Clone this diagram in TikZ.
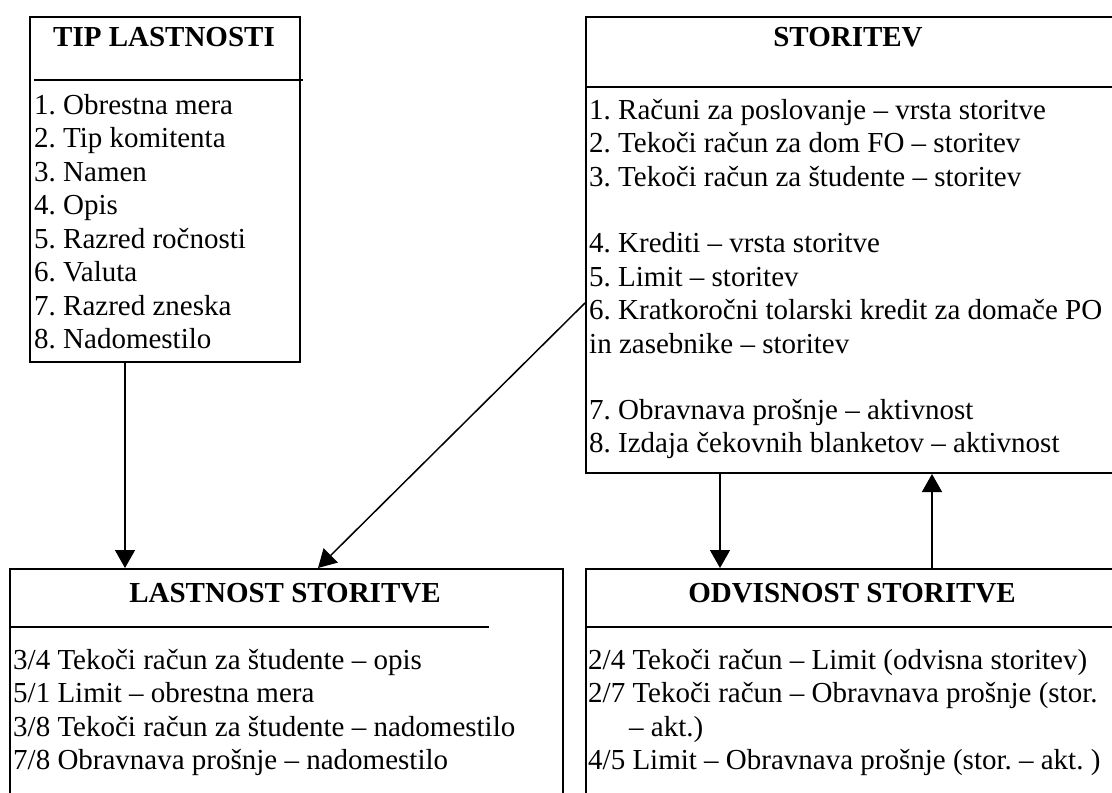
\documentclass[tikz,border=0pt]{standalone}
\usepackage{fontspec}
\setmainfont{Liberation Serif}
\usetikzlibrary{arrows.meta}
\frenchspacing
\tikzset{
  box/.style={draw, line width=2pt, inner sep=0pt, anchor=north west},
  rule/.style={line width=2pt},
  arr/.style={line width=1.5pt, -{Triangle[length=18pt,width=20pt]}},
  head/.style={font=\fontsize{29}{33.5}\selectfont\bfseries, anchor=base, inner sep=0pt},
  item/.style={font=\fontsize{29}{33.5}\selectfont, anchor=base west, inner sep=0pt},
}
\begin{document}
\begin{tikzpicture}[x=1pt,y=-1pt]
\useasboundingbox (0,0) rectangle (1112,793);
\clip (0,0) rectangle (1112,793);

% four entity boxes
\node[box, minimum width=270pt, minimum height=345pt] (tip)  at (29,16)  {};
\node[box, minimum width=531pt, minimum height=456pt] (stor) at (585,16) {};
\node[box, minimum width=553pt, minimum height=240pt] (last) at (9,568)  {};
\node[box, minimum width=531pt, minimum height=240pt] (odv)  at (585,568) {};

% header rules
\draw[rule] (34,80) -- (303,80);
\draw[rule] (585,87) -- (1116,87);
\draw[rule] (10,627) -- (489,627);
\draw[rule] (585,627) -- (1116,627);

% headers
\node[head] (tiph)  at (164,46)  {TIP LASTNOSTI};
\node[head] (storh) at (848,46)  {STORITEV};
\node[head] (lasth) at (285,602) {LASTNOST STORITVE};
\node[head] (odvh)  at (852,602) {ODVISNOST STORITVE};

% TIP LASTNOSTI items
\foreach \t [count=\i from 0] in {1. Obrestna mera, 2. Tip komitenta, 3. Namen, 4. Opis,
    5. Razred ročnosti, 6. Valuta, 7. Razred zneska, 8. Nadomestilo}
  \node[item] (tipi\i) at (34,114+33.5*\i) {\t};

% STORITEV items
\node[item] (s1) at (589,119) {1. Računi za poslovanje – vrsta storitve};
\node[item] (s2) at (589,152) {2. Tekoči račun za dom FO – storitev};
\node[item] (s3) at (589,186) {3. Tekoči račun za študente – storitev};
\node[item] (s4) at (589,252) {4. Krediti – vrsta storitve};
\node[item] (s5) at (589,286) {5. Limit – storitev};
\node[item] (s6) at (589,319) {6. Kratkoročni tolarski kredit za domače PO};
\node[item] (s6b) at (589,353) {in zasebnike – storitev};
\node[item] (s7) at (589,419) {7. Obravnava prošnje – aktivnost};
\node[item] (s8) at (589,452) {8. Izdaja čekovnih blanketov – aktivnost};

% LASTNOST STORITVE items
\node[item] (l1) at (13,669) {3/4 Tekoči račun za študente – opis};
\node[item] (l2) at (13,702) {5/1 Limit – obrestna mera};
\node[item] (l3) at (13,736) {3/8 Tekoči račun za študente – nadomestilo};
\node[item] (l4) at (13,769) {7/8 Obravnava prošnje – nadomestilo};

% ODVISNOST STORITVE items
\node[item] (o1) at (588,669) {2/4 Tekoči račun – Limit (odvisna storitev)};
\node[item] (o2) at (588,702) {2/7 Tekoči račun – Obravnava prošnje (stor.};
\node[item] (o2b) at (629,736) {– akt.)};
\node[item] (o3) at (588,769) {4/5 Limit – Obravnava prošnje (stor. – akt. )};

% connectors
\draw[arr] ([xshift=96pt]tip.south west) -- ([xshift=116pt]last.north west);
\draw[arr] ([yshift=-287pt]stor.north west) -- ([xshift=309pt]last.north west);
\draw[arr] ([xshift=135pt]stor.south west) -- ([xshift=135pt]odv.north west);
\draw[arr] ([xshift=347pt]odv.north west) -- ([xshift=347pt]stor.south west);
\end{tikzpicture}
\end{document}
